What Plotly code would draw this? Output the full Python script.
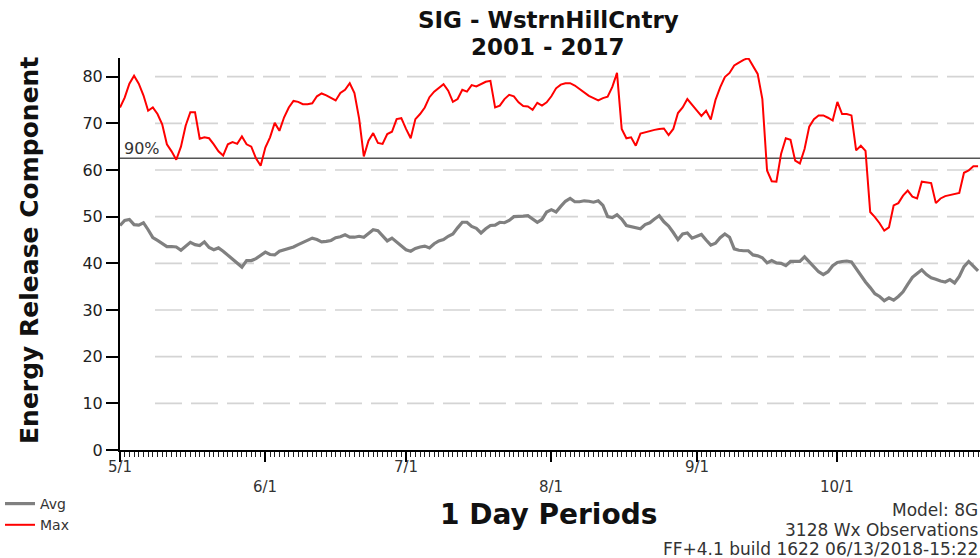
import plotly.graph_objects as go
import pandas as pd

# ---------------- data ----------------
start_date = "2017-05-01"

avg_erc = [
    48.1, 49.2, 49.4, 48.3, 48.2, 48.7, 47.2, 45.5, 44.9, 44.2,
    43.6, 43.6, 43.5, 42.8, 43.6, 44.5, 44.0, 43.8, 44.6, 43.4,
    42.9, 43.3, 42.6, 41.8, 41.0, 40.0, 39.2, 40.6, 40.6, 41.0,
    41.7, 42.4, 41.9, 41.8, 42.6, 42.9, 43.1, 43.5, 44.0, 44.5,
    45.0, 45.4, 45.1, 44.6, 44.7, 44.9,
    45.5, 45.7, 46.1, 45.6, 45.6, 45.8, 45.6, 46.3, 47.2, 47.0,
    46.0, 44.8, 45.4, 44.6, 43.7, 42.9, 42.6, 43.2, 43.5, 43.7,
    43.3, 44.2, 44.8, 45.1, 45.8, 46.3, 47.6, 48.8, 48.8, 47.9,
    47.5, 46.5, 47.4, 48.1, 48.2, 48.8, 48.7, 49.2, 50.0, 50.0,
    50.1, 50.2, 49.4, 48.8, 49.4, 51.0,
    51.5, 51.0, 52.2, 53.3, 53.9, 53.2, 53.2, 53.4, 53.3, 53.1,
    53.4, 52.4, 50.0, 49.8, 50.4, 49.5, 48.1, 47.9, 47.7, 47.4,
    48.3, 48.7, 49.5, 50.2, 48.9, 48.0, 46.6, 45.1, 46.3, 46.5,
    45.4, 45.8, 46.2, 45.0, 43.9, 44.3, 45.5, 46.3, 45.6, 43.1,
    42.8, 42.7, 42.7, 41.8, 41.6, 41.2,
    40.1, 40.6, 40.1, 40.0, 39.5, 40.4, 40.4, 40.4, 41.4, 40.3,
    39.1, 38.2, 37.6, 38.2, 39.5, 40.2, 40.4, 40.5, 40.3, 38.8,
    37.2, 36.0, 34.8, 33.5, 32.9, 32.0, 32.6, 32.1, 32.9, 33.9,
    35.5, 37.0, 37.8, 38.6, 37.6, 36.9, 36.6, 36.2, 36.0, 36.5,
    35.8, 37.2, 39.3, 40.4, 39.4, 38.4,
]

max_erc = [
    73.4, 75.5, 78.5, 80.2, 78.5, 76.0, 72.7, 73.4, 72.0, 69.8,
    65.5, 64.0, 62.2, 65.0, 69.5, 72.4, 72.4, 66.7, 67.0, 66.8,
    65.5, 64.0, 63.1, 65.5, 66.0, 65.6, 67.2, 65.5, 65.0, 62.5,
    60.9, 64.8, 67.0, 70.1, 68.4, 71.3, 73.4, 74.8, 74.6, 74.1,
    74.1, 74.3, 75.8, 76.4, 76.0, 75.4,
    74.9, 76.5, 77.2, 78.6, 76.5, 71.0, 62.9, 66.3, 67.9, 65.8,
    65.6, 67.7, 68.2, 70.9, 71.1, 68.8, 66.8, 70.9, 72.0, 73.4,
    75.6, 76.8, 77.7, 78.4, 77.0, 74.6, 75.2, 77.2, 76.8, 78.2,
    77.9, 78.4, 78.9, 79.1, 73.4, 73.8, 75.2, 76.1, 75.8, 74.5,
    73.7, 73.6, 72.9, 74.4, 73.8, 74.5,
    75.8, 77.5, 78.3, 78.6, 78.6, 78.1, 77.3, 76.6, 75.9, 75.4,
    74.9, 75.4, 75.7, 77.8, 80.8, 68.8, 66.8, 67.0, 65.2, 67.8,
    68.1, 68.3, 68.6, 68.8, 68.9, 67.5, 68.8, 72.2, 73.4, 75.2,
    73.9, 72.8, 71.6, 72.7, 70.8, 75.0, 77.7, 79.9, 80.8, 82.4,
    83.0, 83.6, 84.0, 82.4, 80.6, 75.2,
    59.9, 57.6, 57.5, 63.5, 66.8, 66.5, 62.0, 61.4, 64.5, 69.3,
    70.9, 71.7, 71.7, 71.2, 70.6, 74.6, 72.0, 72.0, 71.7, 64.2,
    65.2, 64.1, 51.0, 49.9, 48.6, 47.0, 47.7, 52.4, 52.9, 54.5,
    55.6, 54.3, 53.9, 57.5, 57.4, 57.2, 52.9, 53.9, 54.4, 54.6,
    54.8, 55.1, 59.4, 59.9, 60.8, 60.8,
]

month_ticks = ["2017-05-01", "2017-06-01", "2017-07-01",
               "2017-08-01", "2017-09-01", "2017-10-01"]
month_labels = ["5/1", "6/1", "7/1", "8/1", "9/1", "10/1"]
y_ticks = [0, 10, 20, 30, 40, 50, 60, 70, 80]
y_labels = ["0", "10", "20", "30", "40", "50", "60", "70", "80"]
pct90_value = 62.5
pct90_label = "90%"
title_lines = ["SIG - WstrnHillCntry", "2001 - 2017"]
footer_lines = ["Model: 8G", "3128 Wx Observations",
                "FF+4.1 build 1622 06/13/2018-15:22"]

dates = pd.date_range(start_date, periods=len(avg_erc), freq="D")

# ---------------- layout constants ----------------
W, H = 980, 558
ML, MR, MT, MB = 120, 0, 58, 108
PW, PH = W - ML - MR, H - MT - MB
SANS = "DejaVu Sans, Verdana, sans-serif"


def py(px):  # pixel y -> paper y
    return (H - MB - px) / PH


def pxx(px):  # pixel x -> paper x
    return (px - ML) / PW


fig = go.Figure()
fig.add_trace(go.Scatter(x=dates, y=avg_erc, mode="lines", name="Avg",
                         line=dict(color="#808080", width=3.2)))
fig.add_trace(go.Scatter(x=dates, y=max_erc, mode="lines", name="Max",
                         line=dict(color="#ff0000", width=2)))

shapes = []
for v in y_ticks[1:]:
    shapes.append(dict(type="line", xref="paper", yref="y",
                       x0=pxx(155), x1=1.0, y0=v, y1=v, layer="below",
                       line=dict(color="#d4d4d4", width=1.6, dash="27px,9px")))
shapes.append(dict(type="line", xref="paper", yref="y", x0=0, x1=1,
                   y0=pct90_value, y1=pct90_value, layer="below",
                   line=dict(color="#555555", width=1.5)))

annotations = []
for i, (d, lab) in enumerate(zip(month_ticks, month_labels)):
    ypx = 467 if i % 2 == 0 else 487
    annotations.append(dict(x=d, xref="x", y=py(ypx), yref="paper",
                            text=lab, showarrow=False, xanchor="center",
                            yanchor="middle",
                            font=dict(family=SANS, size=15, color="#333333")))
annotations.append(dict(x=0.002, xref="paper", y=pct90_value, yref="y",
                        text=pct90_label, showarrow=False, xanchor="left",
                        yanchor="bottom", yshift=-2,
                        font=dict(family=SANS, size=16, color="#333333")))
annotations.append(dict(x=pxx(29), xref="paper", y=py(251), yref="paper",
                        text="<b>Energy Release Component</b>", textangle=-90,
                        showarrow=False, xanchor="center", yanchor="middle",
                        font=dict(family=SANS, size=25, color="#111111")))
for txt, ypx in zip(title_lines, [20, 47]):
    annotations.append(dict(x=pxx(548), xref="paper", y=py(ypx), yref="paper",
                            text="<b>" + txt + "</b>", showarrow=False,
                            xanchor="center", yanchor="middle",
                            font=dict(family=SANS, size=23, color="#111111")))
annotations.append(dict(x=pxx(548), xref="paper", y=py(514), yref="paper",
                        text="<b>1 Day Periods</b>", showarrow=False,
                        xanchor="center", yanchor="middle",
                        font=dict(family=SANS, size=28, color="#111111")))
for txt, ypx in zip(footer_lines, [510, 530, 549]):
    annotations.append(dict(x=1.0, xref="paper", y=py(ypx), yref="paper",
                            text=txt, showarrow=False, xanchor="right",
                            yanchor="middle",
                            font=dict(family=SANS, size=17, color="#333333")))

fig.update_layout(
    width=W, height=H,
    margin=dict(l=ML, r=MR, t=MT, b=MB),
    paper_bgcolor="white", plot_bgcolor="white",
    font=dict(family=SANS, color="#222222"),
    showlegend=True,
    legend=dict(xref="container", yref="container", x=0.0, y=1 - 488 / H,
                xanchor="left", yanchor="top", bgcolor="rgba(0,0,0,0)",
                font=dict(family=SANS, size=14, color="#333333"),
                tracegroupgap=0, itemwidth=30),
    shapes=shapes,
    annotations=annotations,
    xaxis=dict(type="date",
               range=["2017-05-01", "2017-10-31 10:00"],
               showline=True, linecolor="black", linewidth=2,
               ticks="outside", tickvals=month_ticks, ticklen=10,
               tickwidth=1.5, tickcolor="black",
               showticklabels=False, showgrid=False, zeroline=False,
               minor=dict(dtick=86400000, ticks="outside", ticklen=5,
                          tickwidth=1, tickcolor="#222222", showgrid=False)),
    yaxis=dict(range=[0, 84], showline=True, linecolor="black", linewidth=2,
               ticks="outside", tickvals=y_ticks, ticktext=y_labels,
               ticklen=12, tickwidth=1.5, tickcolor="black",
               tickfont=dict(family=SANS, size=16, color="#222222"),
               showgrid=False, zeroline=False),
)

fig.write_html(
    "out.html",
    config={"displayModeBar": False},
    post_script="document.body.style.margin='0px';"
                "document.body.style.overflow='hidden';",
)
